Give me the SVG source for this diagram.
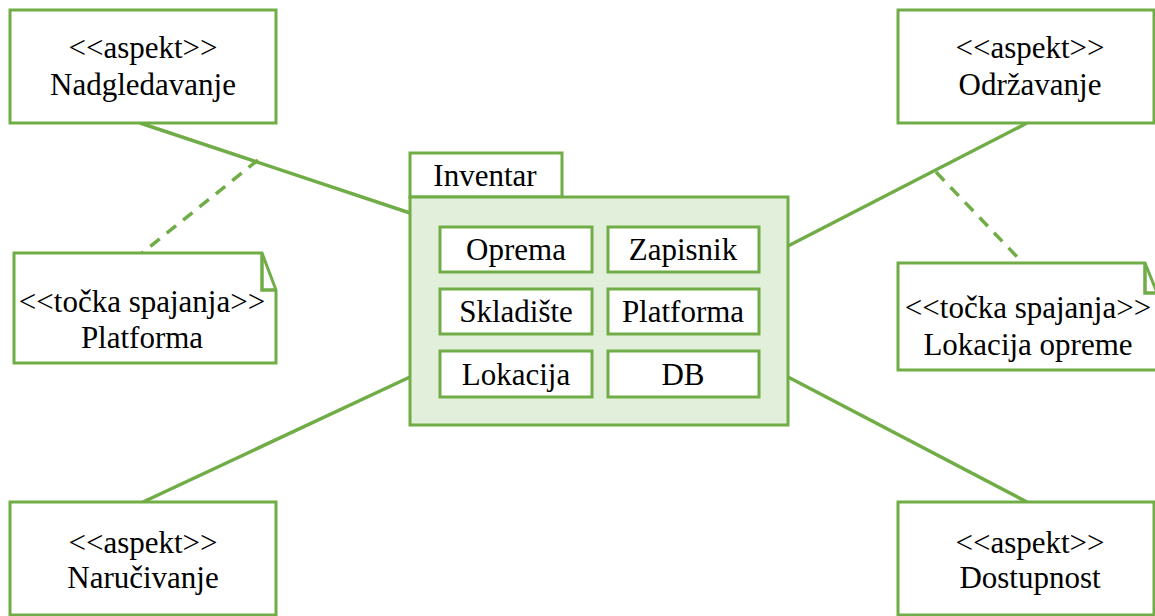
<svg xmlns="http://www.w3.org/2000/svg" width="1155" height="616" viewBox="0 0 1155 616">
<style>
.b{fill:#fff;stroke:#70ad47;stroke-width:3}
.t{font-family:'Liberation Serif','Times New Roman',serif;font-size:31px;fill:#000;text-anchor:middle}
.c{stroke:#70ad47;stroke-width:3.5;fill:none}
.d{stroke:#70ad47;stroke-width:3.5;fill:none;stroke-dasharray:12,9}
</style>
<rect width="1155" height="616" fill="#fff"/>
<g id="connectors">
<line class="c" x1="140" y1="123" x2="410" y2="213"/>
<line class="c" x1="143" y1="502" x2="410" y2="377"/>
<line class="c" x1="1027" y1="123" x2="788" y2="246"/>
<line class="c" x1="1027" y1="502" x2="788" y2="377"/>
<line class="d" x1="258" y1="160" x2="142" y2="253"/>
<line class="d" x1="936" y1="172" x2="1022" y2="262"/>
</g>
<g id="nadgledavanje">
<rect class="b" x="10" y="10" width="266" height="113"/>
<text class="t" x="143" y="58">&lt;&lt;aspekt&gt;&gt;</text>
<text class="t" x="143" y="95">Nadgledavanje</text>
</g>
<g id="odrzavanje">
<rect class="b" x="898" y="10" width="256" height="113"/>
<text class="t" x="1030" y="58">&lt;&lt;aspekt&gt;&gt;</text>
<text class="t" x="1030" y="95">Održavanje</text>
</g>
<g id="narucivanje">
<rect class="b" x="10" y="502" width="266" height="113"/>
<text class="t" x="143" y="553">&lt;&lt;aspekt&gt;&gt;</text>
<text class="t" x="143" y="588">Naručivanje</text>
</g>
<g id="dostupnost">
<rect class="b" x="898" y="502" width="256" height="113"/>
<text class="t" x="1030" y="553">&lt;&lt;aspekt&gt;&gt;</text>
<text class="t" x="1030" y="588">Dostupnost</text>
</g>
<g id="note-platforma">
<path class="b" d="M14,253 H262 L276,290 V363 H14 Z"/>
<path class="c" d="M262,253 V290 H276" stroke-width="3"/>
<text class="t" x="142" y="312">&lt;&lt;točka spajanja&gt;&gt;</text>
<text class="t" x="142" y="348">Platforma</text>
</g>
<g id="note-lokacija">
<path class="b" d="M898,263 H1145 L1160,300 V370 H898 Z"/>
<path class="c" d="M1145,263 V293 H1160" stroke-width="3"/>
<text class="t" x="1028" y="318">&lt;&lt;točka spajanja&gt;&gt;</text>
<text class="t" x="1028" y="355">Lokacija opreme</text>
</g>
<g id="inventar">
<rect class="b" x="410" y="153" width="152" height="44"/>
<text class="t" x="485" y="186">Inventar</text>
<rect x="410" y="197" width="378" height="228" fill="#e2efda" stroke="#70ad47" stroke-width="3"/>
</g>
<g id="oprema"><rect class="b" x="440" y="227" width="152" height="45"/><text class="t" x="516" y="260">Oprema</text></g>
<g id="zapisnik"><rect class="b" x="608" y="227" width="151" height="45"/><text class="t" x="683" y="260">Zapisnik</text></g>
<g id="skladiste"><rect class="b" x="440" y="289" width="152" height="45"/><text class="t" x="516" y="322">Skladište</text></g>
<g id="platforma"><rect class="b" x="608" y="289" width="151" height="45"/><text class="t" x="683" y="322">Platforma</text></g>
<g id="lokacija"><rect class="b" x="440" y="351" width="152" height="46"/><text class="t" x="516" y="385">Lokacija</text></g>
<g id="db"><rect class="b" x="608" y="351" width="151" height="46"/><text class="t" x="683" y="385">DB</text></g>
</svg>
